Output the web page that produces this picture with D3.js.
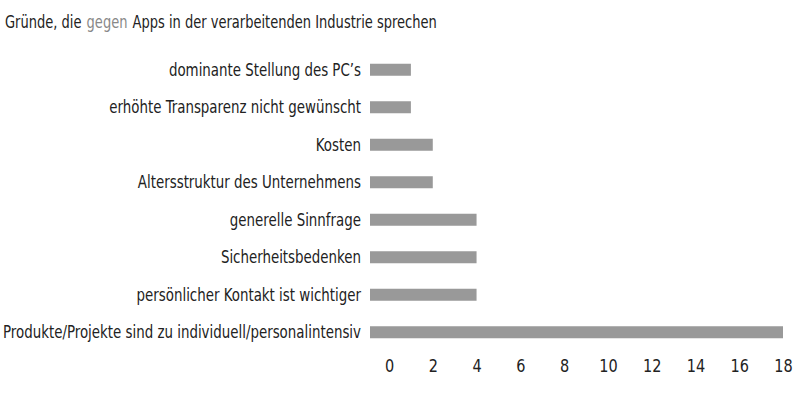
<!DOCTYPE html>
<html><head><meta charset="utf-8">
<script src="https://cdn.jsdelivr.net/npm/d3@7"></script>
<style>body{margin:0;background:#fff}text{font-family:"DejaVu Sans Condensed",sans-serif}</style>
</head><body>
<svg id="c" width="800" height="405"></svg>
<script>
const categories = ["dominante Stellung des PC’s","erhöhte Transparenz nicht gewünscht","Kosten","Altersstruktur des Unternehmens","generelle Sinnfrage","Sicherheitsbedenken","persönlicher Kontakt ist wichtiger","Produkte/Projekte sind zu individuell/personalintensiv"];
const values = [1,1,2,2,4,4,4,18];
const ticks = [0,2,4,6,8,10,12,14,16,18];
const titleParts = ["Gründe, die","gegen","Apps in der verarbeitenden Industrie sprechen"];
const titleColors = ["#222","#888","#222"];

const FONT = '"DejaVu Sans Condensed",sans-serif';
const svg = d3.select("#c");
const x = d3.scaleLinear().domain([0,18]).range([389,783]);
const y = d3.scaleBand().domain(categories).range([51,351]).paddingInner(0.68).paddingOuter(0.34);
const barStart = x(0) - 19;

function squeeze(sel, k){
  sel.each(function(){ const w=this.getComputedTextLength(); d3.select(this).attr("textLength",w*k).attr("lengthAdjust","spacingAndGlyphs"); });
}

// title: three pieces placed one after another, horizontally scaled to reference width
const tparts = svg.selectAll("text.title").data(titleParts).join("text").attr("class","title")
  .attr("font-size",17.5).attr("fill",(d,i)=>titleColors[i]).text(d=>d);
const widths = tparts.nodes().map(n=>n.getComputedTextLength());
const gap = 5;
const kt = (432 - 2*gap)/d3.sum(widths);
let cx = 5;
tparts.each(function(d,i){ d3.select(this).attr("transform",`translate(${cx},28) scale(${kt},1)`); cx += widths[i]*kt + gap; });

svg.selectAll("rect.bar").data(values).join("rect").attr("class","bar")
  .attr("x",barStart).attr("y",(d,i)=>y(categories[i]))
  .attr("width",d=>x(d)-barStart).attr("height",y.bandwidth()).attr("fill","#999");

const labs = svg.selectAll("text.cat").data(categories).join("text").attr("class","cat")
  .attr("x",361).attr("y",d=>y(d)+y.bandwidth()/2).attr("dy","0.36em")
  .attr("text-anchor","end").attr("font-size",17).attr("fill","#222").text(d=>d);
const longest = labs.filter((d,i)=>i===categories.length-1).node().getComputedTextLength();
const k = 358/longest;
squeeze(labs,k);

const ax = svg.append("g").attr("transform","translate(0,351)")
  .call(d3.axisBottom(x).tickValues(ticks).tickSize(0).tickPadding(9));
ax.select(".domain").remove();
const tl = ax.selectAll("text").attr("font-size",17.5).attr("fill","#222").style("font-family",FONT);
squeeze(tl,k*1.05);
</script>
</body></html>
